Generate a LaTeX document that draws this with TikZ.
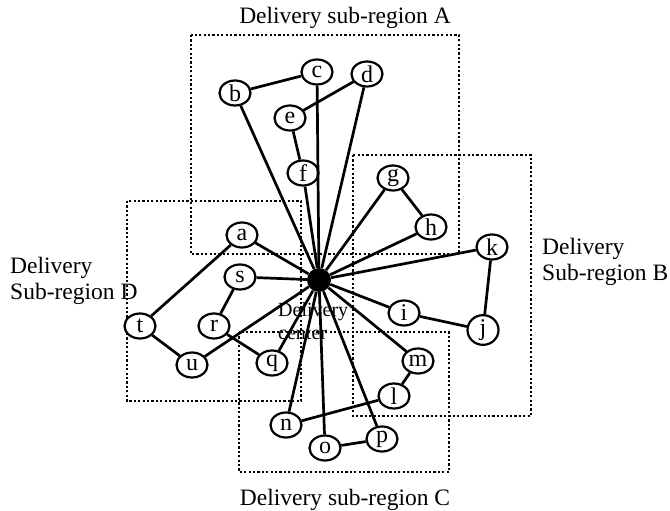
\documentclass[tikz,border=0pt]{standalone}
\usepackage{fontspec}
\setmainfont{Liberation Serif}
\usetikzlibrary{shapes.geometric}
\begin{document}
\begin{tikzpicture}[x=1pt,y=-1pt,
  stop/.style={draw,ellipse,line width=2.2pt,minimum width=31pt,minimum height=25pt,
    inner sep=0pt,fill=white,font=\fontsize{24}{24}\selectfont},
  depot/.style={circle,fill=black,minimum size=24pt,inner sep=0pt},
  link/.style={line width=2.7pt},
  region/.style={line width=2.3pt,dash pattern=on 2.2pt off 2.2pt},
  title/.style={font=\fontsize{23.5}{26}\selectfont,align=left,inner sep=0pt}]
\useasboundingbox (0,0) rectangle (670,511);

% sub-region frames
\draw[region] (191,35) rectangle (459,254);
\draw[region] (353,155) rectangle (531,416);
\draw[region] (127,201) rectangle (301,401);
\draw[region] (239,332) rectangle (449,472);

% depot
\node[depot] (ctr) at (319,280) {};

% customers
\node[stop] (b) at (235,93) {b};
\node[stop] (c) at (317,72) {c};
\node[stop] (d) at (367,74) {d};
\node[stop] (e) at (290,118) {e};
\node[stop] (f) at (303,173) {f};
\node[stop] (g) at (393,178) {g};
\node[stop] (h) at (431,227) {h};
\node[stop] (k) at (492,247) {k};
\node[stop] (i) at (404,313) {i};
\node[stop] (j) at (483,330) {j};
\node[stop] (m) at (418,361) {m};
\node[stop] (l) at (394,396) {l};
\node[stop] (a) at (242,235) {a};
\node[stop] (s) at (240,277) {s};
\node[stop] (t) at (140,326) {t};
\node[stop] (r) at (214,326) {r};
\node[stop] (u) at (192,365) {u};
\node[stop] (q) at (272,363) {q};
\node[stop] (n) at (286,425) {n};
\node[stop] (o) at (325,448) {o};
\node[stop] (p) at (382,439) {p};

% routes
\foreach \v in {b,c,d,f,g,h,k,i,m,n,o,p,q,s,u,a}
  \draw[link] (\v) -- (ctr);
\draw[link] (b) -- (c);
\draw[link] (d) -- (e);
\draw[link] (e) -- (f);
\draw[link] (g) -- (h);
\draw[link] (k) -- (j);
\draw[link] (i) -- (j);
\draw[link] (m) -- (l);
\draw[link] (l) -- (n);
\draw[link] (o) -- (p);
\draw[link] (r) -- (s);
\draw[link] (r) -- (q);
\draw[link] (t) -- (u);
\draw[link] (a) -- (t);

% labels
\node[title,anchor=base] (la) at (345,24) {Delivery sub-region A};
\node[title,anchor=west] (lb) at (542,262) {Delivery\\Sub-region B};
\node[title,anchor=base] (lc) at (345,505) {Delivery sub-region C};
\node[title,anchor=west] (ld) at (10,281) {Delivery\\Sub-region D};
\node[anchor=west,align=left,inner sep=0pt,font=\fontsize{20}{23}\selectfont] (lctr) at (278,321) {Delivery\\center};
\end{tikzpicture}
\end{document}
